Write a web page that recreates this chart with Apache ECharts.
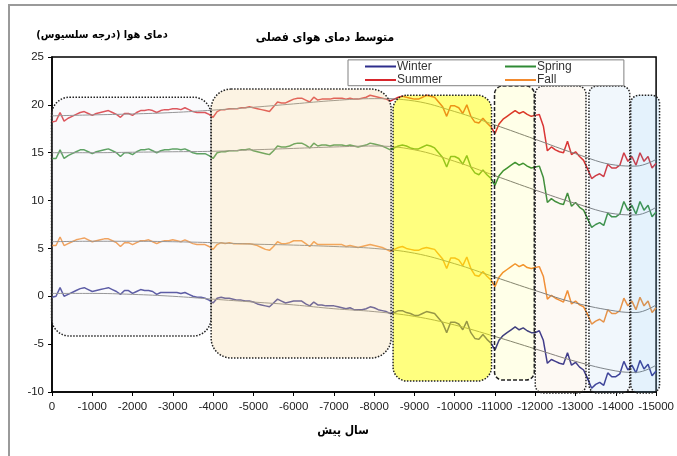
<!DOCTYPE html>
<html><head><meta charset="utf-8">
<script src="https://cdn.jsdelivr.net/npm/echarts@6/dist/echarts.min.js"></script>
<style>html,body{margin:0;padding:0;background:#fff}#c{width:677px;height:456px}</style>
</head><body><div id="c"></div>
<script>
// ---- data (one value every 100 years, from 0 to -15000) ----
const step = 100;
const summer = [18.2,18.3,19.2,18.3,18.6,18.8,19.0,19.2,19.3,19.1,18.9,19.1,19.2,19.3,19.4,19.2,19.0,18.7,19.1,19.1,
18.9,19.2,19.4,19.4,19.5,19.4,19.2,19.4,19.5,19.5,19.6,19.6,19.5,19.7,19.5,19.3,19.2,19.2,19.2,19.0,
18.7,19.3,19.5,19.5,19.6,19.6,19.6,19.7,19.7,19.8,19.7,19.6,19.5,19.4,19.3,19.8,20.3,20.2,20.2,20.4,
20.6,20.7,20.7,20.5,20.3,20.8,20.5,20.6,20.6,20.6,20.7,20.7,20.7,20.6,20.7,20.6,20.6,20.7,20.8,21.0,
20.9,20.8,20.7,20.6,20.4,20.6,20.8,20.9,20.8,20.7,20.6,20.6,20.8,21.0,20.9,20.8,20.3,19.8,18.8,19.9,
19.9,19.7,19.1,20.0,18.8,18.2,18.1,18.6,18.1,17.7,17.0,18.0,18.5,18.8,19.1,19.4,19.1,19.3,19.0,18.8,
18.9,19.0,17.8,15.2,15.6,15.3,15.1,15.0,16.2,14.8,15.1,14.6,14.2,13.3,12.3,12.6,12.8,12.5,13.8,13.4,
13.4,13.7,15.0,14.1,14.6,13.7,15.0,14.1,14.6,13.4,13.9];
const spring = [14.4,14.4,15.3,14.4,14.7,14.9,15.1,15.3,15.3,15.1,14.9,15.1,15.2,15.3,15.4,15.2,15.0,14.6,15.0,15.0,
14.8,15.1,15.3,15.3,15.4,15.2,15.0,15.2,15.3,15.3,15.4,15.4,15.3,15.4,15.2,15.0,14.9,14.9,14.9,14.7,
14.4,15.0,15.1,15.1,15.2,15.2,15.2,15.3,15.3,15.4,15.2,15.1,15.0,14.9,14.8,15.2,15.7,15.6,15.6,15.7,
15.9,16.0,16.0,15.8,15.5,16.0,15.7,15.8,15.8,15.7,15.8,15.8,15.8,15.7,15.8,15.7,15.6,15.7,15.8,16.0,
15.9,15.8,15.7,15.5,15.3,15.5,15.7,15.8,15.7,15.5,15.4,15.4,15.6,15.8,15.7,15.5,15.0,14.5,13.5,14.6,
14.6,14.4,13.8,14.7,13.5,12.9,12.7,13.2,12.7,12.3,11.6,12.6,13.1,13.4,13.7,14.0,13.7,13.9,13.6,13.4,
13.5,13.6,12.4,9.8,10.2,9.9,9.7,9.6,10.8,9.4,9.8,9.3,9.0,8.1,7.2,7.5,7.7,7.4,8.7,8.3,
8.3,8.6,9.9,9.0,9.5,8.6,9.9,9.0,9.5,8.3,8.8];
const fall = [5.3,5.3,6.2,5.3,5.5,5.7,5.9,6.0,6.1,5.9,5.7,5.8,5.9,6.0,6.0,5.8,5.6,5.2,5.6,5.6,
5.4,5.6,5.8,5.8,5.9,5.7,5.5,5.7,5.8,5.8,5.9,5.8,5.7,5.9,5.7,5.5,5.4,5.4,5.4,5.2,
4.9,5.4,5.6,5.5,5.6,5.5,5.5,5.5,5.5,5.5,5.4,5.3,5.1,4.9,4.8,5.2,5.7,5.5,5.5,5.6,
5.8,5.8,5.8,5.5,5.2,5.7,5.4,5.4,5.4,5.4,5.4,5.4,5.4,5.2,5.3,5.2,5.1,5.2,5.3,5.4,
5.3,5.2,5.1,4.9,4.7,4.9,5.1,5.2,5.0,4.9,4.8,4.8,5.0,5.1,5.0,4.9,4.4,3.9,2.9,4.0,
4.0,3.8,3.2,4.1,2.9,2.2,2.1,2.6,2.1,1.7,1.0,2.0,2.5,2.8,3.1,3.4,3.1,3.3,3.0,2.9,
3.0,3.1,2.1,-0.3,0.1,-0.2,-0.4,-0.6,0.6,-0.8,-0.5,-0.9,-1.1,-1.9,-2.9,-2.6,-2.4,-2.7,-1.4,-1.8,
-1.8,-1.5,-0.2,-1.0,-0.5,-1.4,-0.1,-1.0,-0.5,-1.7,-1.2];
const winter = [-0.1,0.0,0.9,0.0,0.2,0.4,0.6,0.8,0.9,0.7,0.5,0.6,0.7,0.8,0.9,0.7,0.5,0.2,0.6,0.6,
0.3,0.5,0.7,0.6,0.6,0.5,0.2,0.4,0.4,0.4,0.4,0.4,0.3,0.4,0.2,0.0,-0.1,-0.1,-0.2,-0.4,
-0.7,-0.2,-0.1,-0.2,-0.2,-0.3,-0.4,-0.4,-0.5,-0.5,-0.6,-0.8,-0.9,-1.0,-1.1,-0.7,-0.3,-0.5,-0.7,-0.6,
-0.5,-0.5,-0.5,-0.8,-1.0,-0.6,-0.9,-0.9,-1.0,-1.0,-1.0,-1.1,-1.2,-1.3,-1.2,-1.4,-1.4,-1.4,-1.3,-1.1,
-1.2,-1.4,-1.5,-1.6,-1.8,-1.7,-1.5,-1.5,-1.7,-1.8,-2.0,-2.0,-1.8,-1.6,-1.7,-1.8,-2.3,-2.8,-3.8,-2.7,
-2.7,-2.9,-3.5,-2.6,-3.8,-4.4,-4.5,-4.0,-4.5,-4.9,-5.6,-4.6,-4.1,-3.8,-3.5,-3.2,-3.5,-3.3,-3.6,-3.8,
-3.8,-3.6,-4.6,-7.0,-6.6,-6.8,-7.0,-7.1,-5.9,-7.2,-6.9,-7.4,-7.7,-8.6,-9.6,-9.2,-9.0,-9.3,-8.0,-8.4,
-8.4,-8.1,-6.8,-7.7,-7.2,-8.0,-6.7,-7.6,-7.1,-8.3,-7.8];
// smooth trend lines
const trendYears   = [0,-1000,-2000,-3000,-4000,-5000,-6000,-7000,-8000,-9000,-10000,-11000,-12000,-13000,-14000,-14500,-15000];
const summerTrend  = [18.85,18.95,19.05,19.2,19.45,19.75,20.1,20.45,20.65,20.4,19.3,17.9,16.4,14.9,13.7,13.6,14.3];
const springTrend  = [15.0,15.0,15.05,15.1,15.15,15.3,15.45,15.6,15.7,15.3,14.1,12.6,11.1,9.7,8.6,8.5,9.3];
const fallTrend    = [5.7,5.75,5.75,5.7,5.6,5.45,5.35,5.2,5.0,4.5,3.4,2.0,0.6,-0.7,-1.55,-1.7,-0.9];
const winterTrend  = [0.3,0.3,0.2,0.0,-0.3,-0.6,-0.9,-1.3,-1.6,-2.1,-3.0,-4.2,-5.5,-6.8,-7.8,-7.95,-7.2];
const seriesNames = ['Winter','Spring','Summer','Fall'];
// annotation boxes: [yearFrom, yearTo, tempTop, tempBottom]
const boxExtents = [
  [12,-3951,20.8,-4.15],
  [-3951,-8420,21.65,-6.45],
  [-8469,-10914,21.0,-8.85],
  [-10988,-11975,21.97,-8.75],
  [-12000,-13259,21.97,-10.1],
  [-13333,-14346,21.97,-10.1],
  [-14370,-15086,21.0,-10.1]
];
const titleText = 'متوسط دمای هوای فصلی';
const yName = 'دمای هوا (درجه سلسیوس)';
const xName = 'سال پیش';

// ---- styles ----
const colors = {Winter:'#2e2e8c', Spring:'#2f8a35', Summer:'#d8262c', Fall:'#f28a2e'};
const boxStyles = [
  {fill:'rgba(235,235,245,0.25)', r:18, dash:[1.5,1.5]},
  {fill:'rgba(246,221,175,0.35)', r:20, dash:[1.5,1.5]},
  {fill:'rgba(255,255,0,0.5)', r:14, dash:[1.5,1.5]},
  {fill:'rgba(255,255,0,0.09)', r:8, dash:[4,2]},
  {fill:'rgba(240,200,140,0.1)', r:8, dash:[1.5,1.5]},
  {fill:'rgba(160,200,235,0.15)', r:8, dash:[1.5,1.5]},
  {fill:'rgba(120,190,240,0.2)', r:8, dash:[1.5,1.5]}
];
const pair = arr => arr.map((v,i)=>[-i*step, v]);
const tpair = arr => arr.map((v,i)=>[trendYears[i], v]);
const dataMap = {Winter:winter, Spring:spring, Summer:summer, Fall:fall};
const trendMap = {Winter:winterTrend, Spring:springTrend, Summer:summerTrend, Fall:fallTrend};

const chart = echarts.init(document.getElementById('c'), null, {renderer:'canvas'});
const fontLat = 'Liberation Sans, Arial, sans-serif';
const fontFa = '"DejaVu Sans Condensed", "DejaVu Sans", sans-serif';
const series = [];
seriesNames.forEach(n=>{
  series.push({name:n, type:'line', data:pair(dataMap[n]), symbol:'none', z:3,
    lineStyle:{color:colors[n], width:1.5}, itemStyle:{color:colors[n]}});
});
seriesNames.forEach(n=>{
  series.push({name:n+' trend', type:'line', data:tpair(trendMap[n]), symbol:'none', smooth:0.4, z:4,
    lineStyle:{color:'#7a7a7a', width:1}, silent:true});
});
const legendCommon = {orient:'vertical', top:60, padding:0, itemWidth:31, itemHeight:2, itemGap:0.5, icon:'rect',
  selectedMode:false, z:20, textStyle:{fontFamily:fontLat, fontSize:12, color:'#333', lineHeight:13, padding:[0,0,0,-4]}};
const option = {
  animation:false,
  backgroundColor:'#fff',
  title:[
    {text:titleText, left:320, top:27, textAlign:'center', textStyle:{fontFamily:fontFa, fontSize:12, fontWeight:'bold', color:'#000'}},
    {text:yName, left:97, top:25, textAlign:'center', textStyle:{fontFamily:fontFa, fontSize:11, fontWeight:'bold', color:'#000'}},
    {text:xName, left:338, top:420, textAlign:'center', textStyle:{fontFamily:fontFa, fontSize:12, fontWeight:'bold', color:'#000'}}
  ],
  legend:[
    Object.assign({}, legendCommon, {left:365, data:['Winter','Summer']}),
    Object.assign({}, legendCommon, {left:505, data:['Spring','Fall']})
  ],
  grid:{left:52, right:15, top:57, bottom:64, show:true, borderColor:'#000', borderWidth:1.5, backgroundColor:'transparent'},
  xAxis:{type:'value', min:-15000, max:0, interval:1000, inverse:true,
    axisLine:{onZero:false, lineStyle:{color:'#000', width:1.5}},
    axisTick:{show:true, inside:false, length:4, lineStyle:{color:'#000'}},
    axisLabel:{fontFamily:fontLat, fontSize:11.5, color:'#222', margin:9, formatter:v=>String(v)},
    splitLine:{show:false}},
  yAxis:{type:'value', min:-10, max:25, interval:5,
    axisLine:{show:true, onZero:false, lineStyle:{color:'#000', width:1.5}},
    axisTick:{show:true, inside:false, length:4, lineStyle:{color:'#000'}},
    axisLabel:{fontFamily:fontLat, fontSize:11.5, color:'#222', margin:8},
    splitLine:{show:false}},
  series:series
};
chart.setOption(option);

function px(x,y){ return chart.convertToPixel({gridIndex:0},[x,y]); }
const graphics = [
  {type:'rect', shape:{x:9,y:5,width:700,height:500}, style:{fill:'none', stroke:'#9a9a9a', lineWidth:2}, z:1, silent:true}
];
boxExtents.forEach((b,i)=>{
  const p1 = px(b[0], b[2]), p2 = px(b[1], b[3]);
  const st = boxStyles[i];
  graphics.push({type:'rect', silent:true, z:10,
    shape:{x:Math.min(p1[0],p2[0]), y:Math.min(p1[1],p2[1]), width:Math.abs(p2[0]-p1[0]), height:Math.abs(p2[1]-p1[1]), r:st.r},
    style:{fill:st.fill, stroke:'#222', lineWidth:1.5, lineDash:st.dash}});
});
// legend frame
const lg1 = px(-7350, 24.7), lg2 = px(-14200, 22.0);
graphics.push({type:'rect', silent:true, z:15,
  shape:{x:lg1[0], y:lg1[1], width:lg2[0]-lg1[0], height:lg2[1]-lg1[1]},
  style:{fill:'#fff', stroke:'#808080', lineWidth:1}});
chart.setOption({graphic:graphics});
</script>
</body></html>
